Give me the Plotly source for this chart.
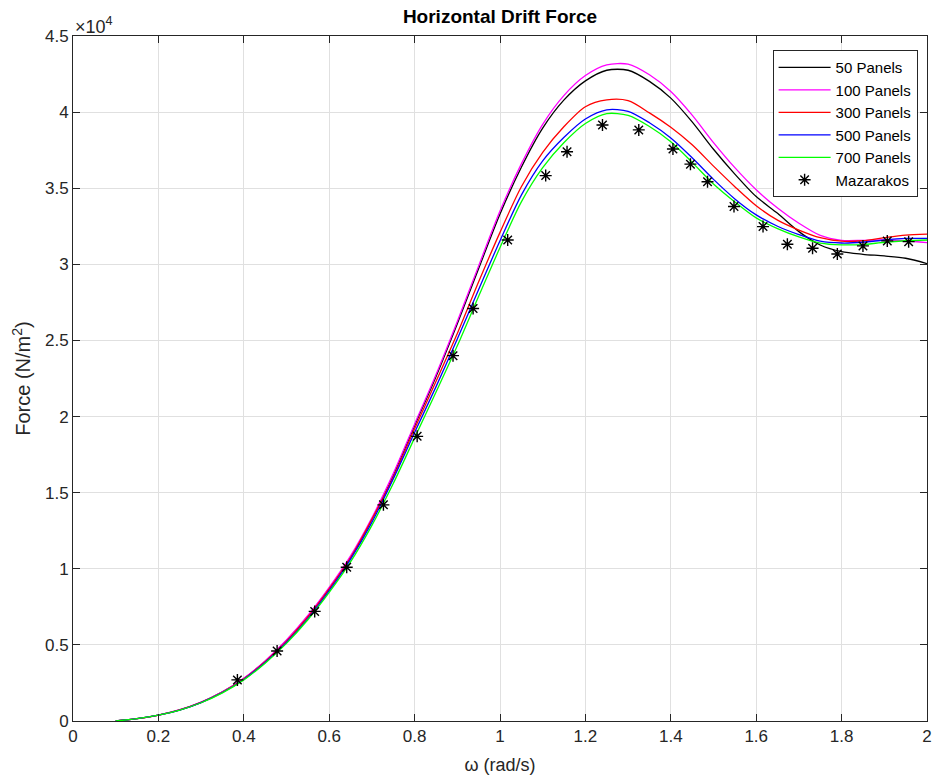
import plotly.graph_objects as go

# omega (rad/s)
omega = [0.10, 0.15, 0.20, 0.25, 0.30, 0.35, 0.40, 0.45, 0.50, 0.55,
         0.60, 0.65, 0.70, 0.75, 0.80, 0.85, 0.90, 0.95, 1.00, 1.05,
         1.10, 1.15, 1.20, 1.25, 1.30, 1.35, 1.40, 1.45, 1.50, 1.55,
         1.60, 1.65, 1.70, 1.75, 1.80, 1.85, 1.90, 1.95, 2.00]

# Force values in units of 1e4 N/m^2
f_50 = [0.000, 0.015, 0.039, 0.073, 0.123, 0.191, 0.279, 0.393, 0.529, 0.689,
        0.872, 1.074, 1.325, 1.615, 1.940, 2.262, 2.610, 2.972, 3.330, 3.638,
        3.895, 4.080, 4.205, 4.275, 4.275, 4.202, 4.092, 3.936, 3.756, 3.593,
        3.445, 3.335, 3.215, 3.127, 3.083, 3.066, 3.055, 3.040, 3.005]
f_100 = [0.000, 0.015, 0.039, 0.074, 0.124, 0.192, 0.281, 0.395, 0.532, 0.693,
         0.878, 1.085, 1.335, 1.625, 1.950, 2.275, 2.625, 2.990, 3.350, 3.660,
         3.920, 4.110, 4.240, 4.310, 4.315, 4.245, 4.135, 3.980, 3.800, 3.635,
         3.490, 3.370, 3.270, 3.190, 3.158, 3.158, 3.160, 3.155, 3.143]
f_300 = [0.000, 0.015, 0.038, 0.073, 0.122, 0.189, 0.276, 0.389, 0.523, 0.683,
         0.868, 1.072, 1.325, 1.600, 1.920, 2.230, 2.545, 2.885, 3.210, 3.510,
         3.735, 3.905, 4.035, 4.080, 4.075, 3.995, 3.900, 3.785, 3.645, 3.510,
         3.385, 3.290, 3.225, 3.175, 3.152, 3.155, 3.175, 3.192, 3.198]
f_500 = [0.000, 0.015, 0.038, 0.072, 0.121, 0.187, 0.273, 0.384, 0.516, 0.673,
         0.856, 1.062, 1.305, 1.590, 1.895, 2.195, 2.510, 2.835, 3.155, 3.455,
         3.680, 3.835, 3.955, 4.015, 4.005, 3.930, 3.830, 3.700, 3.558, 3.430,
         3.325, 3.250, 3.195, 3.152, 3.140, 3.145, 3.160, 3.170, 3.171]
f_700 = [0.000, 0.015, 0.038, 0.072, 0.120, 0.185, 0.270, 0.380, 0.510, 0.665,
         0.845, 1.045, 1.285, 1.560, 1.860, 2.160, 2.465, 2.790, 3.110, 3.410,
         3.635, 3.800, 3.925, 3.990, 3.978, 3.905, 3.805, 3.670, 3.528, 3.410,
         3.305, 3.235, 3.180, 3.140, 3.128, 3.130, 3.145, 3.155, 3.160]

# Mazarakos reference points
w_maz = [0.385, 0.478, 0.566, 0.641, 0.727, 0.806, 0.890, 0.937, 1.018, 1.107,
         1.157, 1.240, 1.325, 1.405, 1.446, 1.486, 1.548, 1.616, 1.673, 1.732,
         1.790, 1.850, 1.907, 1.957]
f_maz = [0.270, 0.460, 0.720, 1.010, 1.420, 1.870, 2.400, 2.710, 3.160, 3.583,
         3.740, 3.915, 3.883, 3.758, 3.658, 3.543, 3.380, 3.248, 3.132, 3.106,
         3.068, 3.121, 3.154, 3.149]

series = [("50 Panels", f_50, "#000000"),
          ("100 Panels", f_100, "#ff00ff"),
          ("300 Panels", f_300, "#ff0000"),
          ("500 Panels", f_500, "#0000ff"),
          ("700 Panels", f_700, "#00ff00")]

FONT = "Liberation Sans, Arial, Helvetica, sans-serif"
AX = "#262626"

fig = go.Figure()
for name, vals, col in series:
    fig.add_trace(go.Scatter(x=omega, y=vals, mode="lines", name=name,
                             line=dict(color=col, width=1.3, shape="spline", smoothing=0.8)))
fig.add_trace(go.Scatter(x=w_maz, y=f_maz, mode="markers", name="Mazarakos",
                         marker=dict(symbol="asterisk-open", size=10, color="#000000",
                                     line=dict(color="#000000", width=1.4))))

fig.update_layout(
    width=941, height=781,
    margin=dict(l=73, r=9, t=36, b=60),
    paper_bgcolor="white", plot_bgcolor="white",
    font=dict(family=FONT, size=17, color=AX),
    title=dict(text="<b>Horizontal Drift Force</b>", xref="paper", x=0.5, xanchor="center",
               y=0.979, yanchor="middle", font=dict(size=19, color="#000000")),
    showlegend=True,
    legend=dict(x=0.989, xanchor="right", y=0.9795, yanchor="top",
                bgcolor="white", bordercolor=AX, borderwidth=1, itemwidth=52,
                font=dict(size=15, color="#000000"), tracegroupgap=0),
)
fig.update_xaxes(range=[0, 2], dtick=0.2, tick0=0, showgrid=True, gridcolor="#e0e0e0",
                 showline=True, linecolor=AX, linewidth=1, mirror="ticks",
                 ticks="inside", ticklen=7, tickcolor=AX, zeroline=False,
                 tickfont=dict(size=17, color=AX),
                 title=dict(text="ω (rad/s)", standoff=12, font=dict(size=18, color=AX)))
fig.update_yaxes(range=[0, 4.5], dtick=0.5, tick0=0, showgrid=True, gridcolor="#e0e0e0",
                 showline=True, linecolor=AX, linewidth=1, mirror="ticks",
                 ticks="inside", ticklen=7, tickcolor=AX, zeroline=False,
                 tickfont=dict(size=17, color=AX),
                 title=dict(text="Force (N/m<sup>2</sup>)", standoff=8, font=dict(size=20, color=AX)))
fig.add_annotation(text="×10<sup>4</sup>", xref="paper", yref="paper", x=0.0, y=1.0,
                   xanchor="left", yanchor="bottom", showarrow=False, yshift=-3,
                   font=dict(size=18, color=AX))

fig.write_html("out.html")
